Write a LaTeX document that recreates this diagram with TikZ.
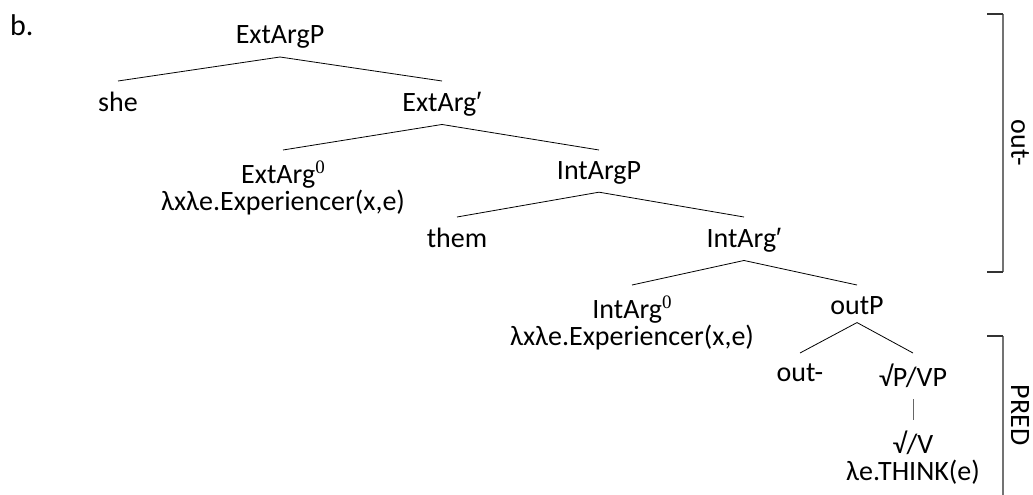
\documentclass[tikz,border=0pt]{standalone}
\usepackage{fontspec}
\setmainfont{Carlito}
\newfontfamily\primefont{Liberation Sans}
\newfontfamily\serifzero{Liberation Serif}
\newcommand{\pr}{{\primefont ′}}
\newcommand{\zsup}{\raisebox{9.5pt}{\serifzero\fontsize{19pt}{19pt}\selectfont 0}}
\begin{document}
\begin{tikzpicture}[x=1pt,y=-1pt,
  tn/.style={font=\fontsize{28pt}{27pt}\selectfont, inner sep=0pt, anchor=north, align=center},
  edge/.style={line width=0.8pt, black},
  brk/.style={line width=1.6pt, gray!90!black},
  tick/.style={line width=1.6pt, black!80},
  blabel/.style={font=\fontsize{28pt}{27pt}\selectfont, inner sep=0pt, rotate=-90}]
\useasboundingbox (0,0) rectangle (1033,495);

\node[font=\fontsize{30pt}{30pt}\selectfont, inner sep=0pt, anchor=base west] (lbl) at (10,36) {b.};

\node[tn, anchor=south] (root) at (280,49) {ExtArgP};
\node[tn] (she) at (118,92) {she};
\node[tn] (extbar) at (442,92) {ExtArg\pr};
\node[tn] (ext0) at (283,161) {ExtArg\zsup\\λxλe.Experiencer(x,e)};
\node[tn] (intP) at (599,161) {IntArgP};
\node[tn] (them) at (457,228) {them};
\node[tn] (intbar) at (744,228) {IntArg\pr};
\node[tn] (int0) at (632,296) {IntArg\zsup\\λxλe.Experiencer(x,e)};
\node[tn] (outP) at (857,296) {outP};
\node[tn] (out) at (800,364) {out-};
\node[tn] (sqP) at (913,364) {√P/VP};
\node[tn] (sqV) at (913,431) {√/V\\λe.THINK(e)};

\draw[edge] ([yshift=-8pt]root.south) -- ([yshift=11pt]she.north);
\draw[edge] ([yshift=-8pt]root.south) -- ([yshift=11pt]extbar.north);
\draw[edge] ([yshift=-8pt]extbar.south) -- ([yshift=11pt]ext0.north);
\draw[edge] ([yshift=-8pt]extbar.south) -- ([yshift=11pt]intP.north);
\draw[edge] ([yshift=-8pt]intP.south) -- ([yshift=11pt]them.north);
\draw[edge] ([yshift=-8pt]intP.south) -- ([yshift=11pt]intbar.north);
\draw[edge] ([yshift=-8pt]intbar.south) -- ([yshift=11pt]int0.north);
\draw[edge] ([yshift=-8pt]intbar.south) -- ([yshift=11pt]outP.north);
\draw[edge] ([yshift=-8pt]outP.south) -- ([yshift=11pt]out.north);
\draw[edge] ([yshift=-8pt]outP.south) -- ([yshift=11pt]sqP.north);
\draw[edge, gray!80!black] ([yshift=-11pt]sqP.south) -- ([yshift=11pt]sqV.north);

\coordinate (b1t) at (1003,14);
\coordinate (b1b) at (1003,272);
\draw[brk] (b1t) -- (b1b);
\draw[tick] (987,14) -- (b1t);
\draw[tick] (987,272) -- (b1b);
\node[blabel] (outlbl) at (1020,143) {out-};

\coordinate (b2t) at (1003,336);
\coordinate (b2b) at (1003,496);
\draw[brk] (b2t) -- (b2b);
\draw[tick] (987,336) -- (b2t);
\node[blabel] (predlbl) at (1020,415) {PRED};
\end{tikzpicture}
\end{document}
